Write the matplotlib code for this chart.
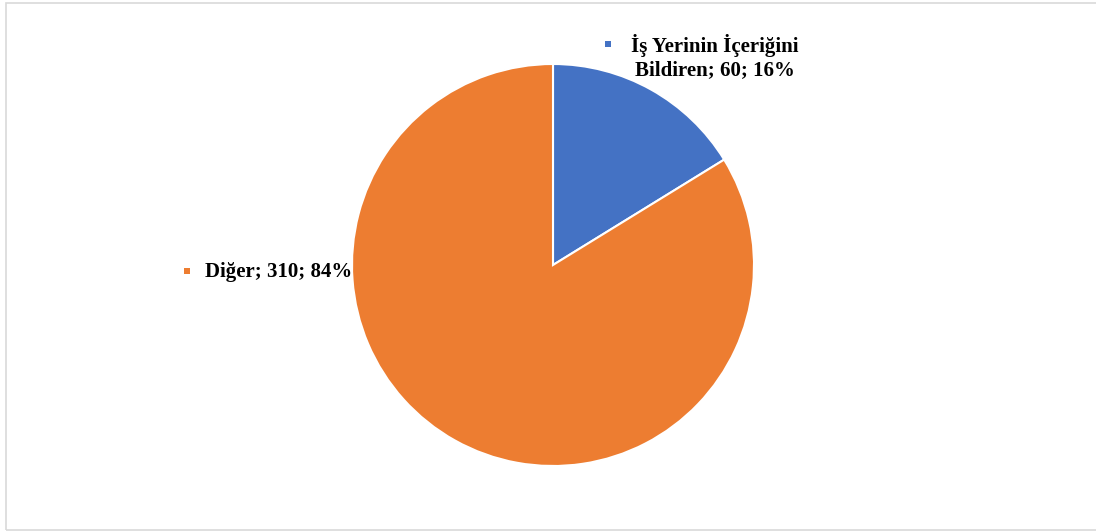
import matplotlib.pyplot as plt
from matplotlib.patches import Rectangle

labels = ["İş Yerinin İçeriğini\nBildiren", "Diğer"]
values = [60, 310]
colors = ["#4472C4", "#ED7D31"]

W, H = 1096, 531
fig = plt.figure(figsize=(W / 100, H / 100), dpi=100)
ax = fig.add_axes([0, 0, 1, 1])
ax.set_xlim(0, W)
ax.set_ylim(0, H)
ax.set_axis_off()

# chart border (right edge runs past the canvas)
fig.patches.append(Rectangle((5.5 / W, 1.5 / H), (W + 10) / W, (H - 4) / H,
                             transform=fig.transFigure, fill=False,
                             edgecolor="#D9D9D9", linewidth=1.2))

ax.pie(values, colors=colors, startangle=90, counterclock=False,
       center=(553, H - 265), radius=201,
       wedgeprops=dict(edgecolor="white", linewidth=1.5))
ax.set_aspect("equal", adjustable="datalim")
ax.set_xlim(0, W)
ax.set_ylim(0, H)

total = sum(values)
font = dict(family="Liberation Serif", fontsize=15, fontweight="bold", color="#000000")

# data labels with legend keys
lab0 = f"{labels[0]}; {values[0]}; {round(values[0] / total * 100)}%"
ax.text(715, H - 57, lab0, ha="center", va="center", linespacing=1.15, **font)
ax.plot(608, H - 44, marker="s", ms=5, color=colors[0], mew=0)

lab1 = f"{labels[1]}; {values[1]}; {round(values[1] / total * 100)}%"
ax.text(205, H - 272, lab1, ha="left", va="center", **font)
ax.plot(187, H - 271, marker="s", ms=5, color=colors[1], mew=0)

fig.savefig("out.png", dpi=100, facecolor="white")
